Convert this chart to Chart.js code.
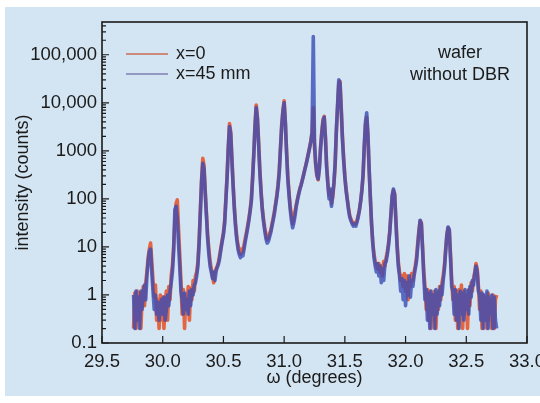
<!DOCTYPE html>
<html>
<head>
<meta charset="utf-8">
<script src="https://cdn.jsdelivr.net/npm/chart.js@4.4.1/dist/chart.umd.min.js"></script>
<style>
  html, body { margin: 0; padding: 0; background: #fff; }
  #wrap { width: 540px; height: 403px; }
</style>
</head>
<body>
<div id="wrap"><canvas id="xrd" width="540" height="403"></canvas></div>
<script>
// omega sampling of the scan (degrees)
const omegaStart = 29.76;
const omegaStep = 0.01;

// intensity (counts), x = 0
const counts0 = [
  0.2, 1.1, 0.2, 1.2,
  0.3, 1.1, 0.2, 0.8, 1.5, 0.6, 1.8, 3, 6, 9,
  12, 5, 2, 0.9, 1.6, 0.3, 0.8, 0.2, 1.0, 0.3,
  0.9, 0.2, 0.7, 1.2, 0.3, 1.5, 0.8, 2.5, 4, 10,
  35, 80, 95, 25, 7, 2, 0.4, 1.3, 0.2, 1.0,
  0.5, 1.5, 0.3, 1.4, 0.8, 2, 1.2, 2.5, 3, 5,
  14, 60, 250, 700, 500, 150, 50, 18, 9, 5,
  3.5, 2.5, 1.8, 2.8, 3.5, 4, 5, 7, 10, 14,
  20, 35, 100, 300, 1200, 3700, 2500, 700, 200, 70,
  30, 16, 11, 8, 7, 9, 8, 11, 15, 20,
  28, 40, 60, 100, 280, 900, 3500, 9000, 5000, 1500,
  400, 150, 65, 38, 25, 18, 14, 15, 19, 22,
  30, 40, 55, 80, 120, 200, 400, 1200, 3500, 7000,
  11000, 4000, 1000, 300, 140, 70, 45, 30, 40, 55,
  75, 100, 130, 165, 200, 250, 320, 410, 520, 680,
  900, 1200, 1600, 2300, 8000, 1200, 500, 300, 250, 450,
  1200, 2500, 4500, 5200, 2000, 500, 220, 120, 150, 80,
  110, 200, 500, 2500, 8000, 25000, 28000, 8000, 2000, 700,
  300, 160, 100, 65, 45, 38, 33, 30, 32, 30,
  35, 45, 60, 90, 150, 300, 1200, 3500, 5000, 2000,
  400, 100, 30, 12, 7, 5, 4, 3.5, 4.5, 3,
  4, 2.5, 5, 4, 6, 8, 12, 22, 50, 110,
  150, 130, 40, 12, 5, 3, 2, 2.5, 1.5, 2.8,
  1.2, 2.5, 0.8, 2, 1.5, 2.8, 2, 3, 4, 6,
  12, 22, 35, 32, 10, 3, 1.5, 0.5, 1.3, 0.3,
  1.2, 0.2, 1.0, 0.3, 1.2, 0.2, 1.1, 0.5, 1.5, 0.8,
  1.8, 2.5, 4, 9, 18, 25, 22, 7, 2, 0.8,
  1.5, 0.3, 1.2, 0.2, 1.3, 0.5, 1.6, 0.2, 1.2, 0.4,
  1.0, 0.2, 1.3, 0.6, 1.8, 1.2, 2.2, 3, 4.5, 3.5,
  1.5, 0.5, 1.2, 0.2, 1.0, 0.3, 0.9, 0.2, 1.1, 0.3,
  0.8, 0.2, 1.0, 0.2, 0.8, 1.0
];

// intensity (counts), x = 45 mm
const counts45 = [
  1.0, 0.2, 1.2, 0.3,
  0.9, 0.2, 1.2, 0.5, 1.0, 1.6, 0.8, 2.5, 5, 8,
  9, 3, 1.2, 0.5, 1.0, 0.4, 0.7, 0.3, 0.6, 0.8,
  0.4, 0.9, 0.3, 0.5, 1.0, 0.6, 1.2, 1.8, 3, 8,
  60, 70, 40, 12, 4, 1.2, 0.8, 0.4, 1.1, 0.5,
  0.8, 0.4, 1.2, 0.6, 1.3, 1.0, 1.6, 1.8, 2.5, 4,
  12, 50, 220, 550, 420, 130, 45, 15, 7, 4,
  3, 2.2, 3, 2, 3.2, 3.8, 4.5, 6, 9, 13,
  18, 30, 90, 270, 1100, 3200, 2200, 600, 180, 60,
  26, 14, 9, 7, 6, 7, 6.5, 9, 13, 18,
  25, 36, 55, 90, 250, 800, 3000, 8000, 4500, 1300,
  350, 130, 60, 34, 22, 15, 12, 13, 16, 20,
  27, 36, 50, 75, 110, 180, 360, 1100, 3200, 6500,
  10000, 3800, 900, 270, 120, 60, 36, 25, 32, 45,
  70, 95, 125, 160, 195, 245, 310, 400, 510, 660,
  870, 1150, 1550, 2500, 240000, 1500, 550, 320, 260, 420,
  1100, 2300, 4000, 5000, 1800, 450, 200, 100, 160, 70,
  120, 220, 550, 2700, 9000, 30000, 26000, 7000, 1800, 650,
  280, 150, 95, 60, 42, 35, 30, 27, 30, 27,
  33, 42, 58, 88, 150, 320, 1300, 4000, 6200, 2200,
  420, 110, 30, 12, 6, 4, 3, 4.5, 2.5, 4,
  1.8, 3.5, 2, 4.5, 5, 7, 11, 20, 50, 120,
  160, 120, 35, 10, 4, 2.5, 1.2, 2.2, 0.8, 2,
  0.6, 1.8, 1.0, 2.5, 0.9, 2, 1.5, 2.5, 3.5, 5,
  10, 20, 36, 30, 9, 2.5, 0.8, 1.3, 0.3, 1.1,
  0.2, 1.2, 0.4, 1.0, 0.2, 1.3, 0.4, 1.2, 0.6, 1.5,
  1.0, 2, 3.5, 8, 17, 26, 23, 6, 1.5, 1.2,
  0.4, 1.3, 0.3, 1.0, 0.2, 1.2, 0.4, 1.1, 0.3, 1.3,
  0.5, 1.2, 0.4, 1.5, 0.9, 2, 1.6, 2.8, 4, 3,
  1.2, 1.0, 0.3, 1.1, 0.2, 1.0, 0.3, 1.2, 0.2, 0.9,
  0.4, 1.0, 0.2, 0.9, 0.3, 0.2
];

const seriesNames = ['x=0', 'x=45 mm'];
const xTicks = [29.5, 30.0, 30.5, 31.0, 31.5, 32.0, 32.5, 33.0];
const xTickLabels = ['29.5', '30.0', '30.5', '31.0', '31.5', '32.0', '32.5', '33.0'];
const yTicks = [0.1, 1, 10, 100, 1000, 10000, 100000];
const yTickLabels = ['0.1', '1', '10', '100', '1000', '10,000', '100,000'];
const noteLines = ['wafer', 'without DBR'];

const FONT = '"Liberation Sans", Arial, sans-serif';
const INK = '#1b1b1b';

const omega = counts0.map((_, i) => +(omegaStart + i * omegaStep).toFixed(2));
const pts = arr => arr.map((v, i) => ({ x: omega[i], y: v }));

const panelBg = {
  id: 'panelBg',
  beforeDraw(chart) {
    const ctx = chart.ctx;
    ctx.save();
    ctx.fillStyle = '#ffffff';
    ctx.fillRect(0, 0, chart.width, chart.height);
    ctx.fillStyle = '#d3e4f2';
    ctx.fillRect(5, 7, chart.width - 5, 389);
    ctx.restore();
  }
};

const softLines = {
  id: 'softLines',
  beforeDatasetsDraw(chart) {
    chart.ctx.save();
    chart.ctx.filter = 'blur(0.7px)';
  },
  afterDatasetsDraw(chart) {
    chart.ctx.restore();
  }
};

// box and inward ticks, like the original plot
const frame = {
  id: 'frame',
  afterDraw(chart) {
    const { ctx, chartArea: a, scales: { x, y } } = chart;
    ctx.save();
    ctx.strokeStyle = INK;
    ctx.lineWidth = 1.6;
    ctx.strokeRect(a.left, a.top, a.right - a.left, a.bottom - a.top);
    ctx.lineWidth = 1.2;
    ctx.beginPath();
    xTicks.forEach(v => {
      const px = x.getPixelForValue(v);
      ctx.moveTo(px, a.bottom);
      ctx.lineTo(px, a.bottom - 7);
    });
    for (let k = -1; k <= 5; k++) {
      for (let m = 1; m <= 9; m++) {
        const v = m * Math.pow(10, k);
        if (v > y.max) break;
        const py = y.getPixelForValue(v);
        ctx.moveTo(a.left, py);
        ctx.lineTo(a.left + (m === 1 ? 7 : 4), py);
      }
    }
    ctx.stroke();
    ctx.restore();
  }
};

const keyAndNote = {
  id: 'keyAndNote',
  afterDraw(chart) {
    const ctx = chart.ctx;
    const keyColors = ['#cc8a7a', '#9298c2'];
    ctx.save();
    ctx.font = '18px ' + FONT;
    ctx.textBaseline = 'middle';
    seriesNames.forEach((name, i) => {
      const yy = 54 + i * 20;
      ctx.strokeStyle = keyColors[i];
      ctx.lineWidth = 2;
      ctx.beginPath();
      ctx.moveTo(126, yy);
      ctx.lineTo(168, yy);
      ctx.stroke();
      ctx.fillStyle = INK;
      ctx.textAlign = 'left';
      ctx.fillText(name, 176, yy);
    });
    ctx.textAlign = 'center';
    noteLines.forEach((t, i) => ctx.fillText(t, 460, 53 + i * 22));
    ctx.restore();
  }
};

new Chart(document.getElementById('xrd'), {
  type: 'line',
  data: {
    datasets: [
      {
        label: seriesNames[0],
        data: pts(counts0),
        borderColor: 'rgba(228, 94, 56, 0.95)',
        borderWidth: 3.6,
        pointRadius: 0,
        tension: 0,
        borderJoinStyle: 'round',
        order: 1
      },
      {
        label: seriesNames[1],
        data: pts(counts45),
        borderColor: 'rgba(56, 76, 182, 0.8)',
        borderWidth: 3.6,
        pointRadius: 0,
        tension: 0,
        borderJoinStyle: 'round',
        order: 0
      }
    ]
  },
  options: {
    responsive: false,
    animation: false,
    devicePixelRatio: 1,
    layout: { padding: { left: 0, top: 22, right: 13, bottom: 0 } },
    plugins: { legend: { display: false }, tooltip: { enabled: false } },
    scales: {
      x: {
        type: 'linear',
        min: 29.5,
        max: 33.0,
        grid: { display: false, drawTicks: false },
        border: { display: false },
        afterBuildTicks: s => { s.ticks = xTicks.map(v => ({ value: v })); },
        afterFit: s => { s.height = 60; s.paddingLeft = 0; s.paddingRight = 0; },
        ticks: {
          color: INK,
          font: { family: FONT, size: 18.5 },
          padding: 8,
          maxRotation: 0,
          autoSkip: false,
          callback: (v, i) => xTickLabels[i]
        },
        title: {
          display: true,
          text: 'ω (degrees)',
          color: INK,
          font: { family: FONT, size: 18 },
          padding: { top: 0, bottom: 14 }
        }
      },
      y: {
        type: 'logarithmic',
        min: 0.1,
        max: 480000,
        grid: { display: false, drawTicks: false },
        border: { display: false },
        afterBuildTicks: s => { s.ticks = yTicks.map(v => ({ value: v })); },
        afterFit: s => { s.width = 102; },
        ticks: {
          color: INK,
          font: { family: FONT, size: 18.5 },
          padding: 5,
          autoSkip: false,
          callback: (v, i) => yTickLabels[i]
        },
        title: {
          display: true,
          text: 'intensity (counts)',
          color: INK,
          font: { family: FONT, size: 18 },
          padding: { top: 12, bottom: 0 }
        }
      }
    }
  },
  plugins: [panelBg, softLines, frame, keyAndNote]
});
</script>
</body>
</html>
